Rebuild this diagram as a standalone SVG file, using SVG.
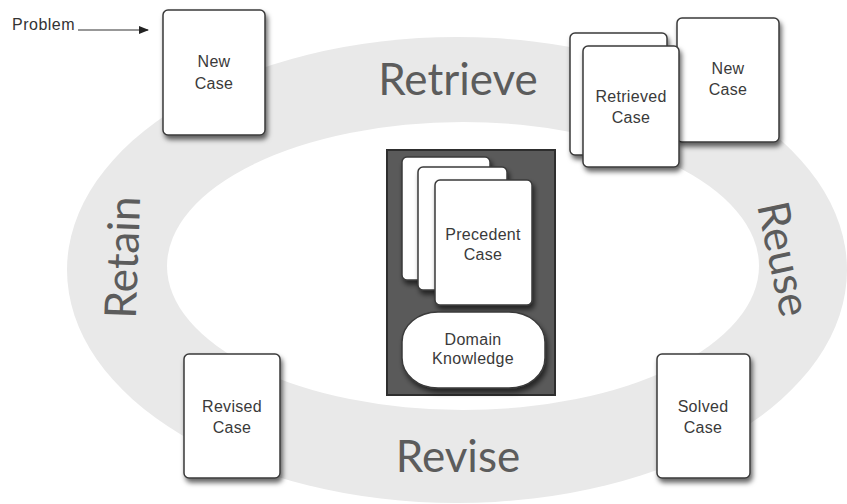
<svg xmlns="http://www.w3.org/2000/svg" width="847" height="504" viewBox="0 0 847 504">
<style>
.card{fill:#fff;stroke:#3a3a3a;stroke-width:1.5;filter:url(#sh)}
.t{font-family:"Liberation Sans",Arial,sans-serif;font-size:16px;fill:#3a3a3a;text-anchor:middle;letter-spacing:0.3px}
.big{font-family:Lato,"Open Sans",sans-serif;font-size:44px;fill:#5c5c5c;text-anchor:middle}
</style>
<defs>
<filter id="sh" x="-20%" y="-20%" width="150%" height="150%">
<feDropShadow dx="2" dy="4" stdDeviation="2.5" flood-color="#000" flood-opacity="0.6"/>
</filter>
<marker id="ah" markerWidth="10" markerHeight="8" refX="9" refY="4" orient="auto" markerUnits="userSpaceOnUse">
<path d="M0,0 L10,4 L0,8 z" fill="#222"/>
</marker>
</defs>
<rect width="847" height="504" fill="#fff"/>
<g id="ring">
<ellipse cx="457" cy="270" rx="390" ry="233" fill="#e9e9e9"/>
<ellipse cx="463" cy="266" rx="296" ry="144" fill="#fff"/>
</g>
<g id="labels">
<text class="big" x="458" y="95">Retrieve</text>
<text class="big" x="458" y="472">Revise</text>
<text class="big" transform="translate(138,258) rotate(-88)">Retain</text>
<text class="big" transform="translate(769,262) rotate(78)">Reuse</text>
</g>
<g id="problem">
<text x="12" y="30" style="font-family:'Liberation Sans',Arial,sans-serif;font-size:16px;letter-spacing:0.5px;fill:#333">Problem</text>
</g>
<g id="connectors">
<line x1="78" y1="30" x2="148" y2="30" stroke="#333" stroke-width="1.2" marker-end="url(#ah)"/>
</g>
<g id="new-case">
<rect class="card" x="163" y="10" width="102" height="125" rx="5"/>
<text class="t" x="214" y="67">New</text>
<text class="t" x="214" y="89">Case</text>
</g>
<g id="new-case-2">
<rect class="card" x="677" y="18" width="102" height="124" rx="5"/>
<text class="t" x="728" y="74">New</text>
<text class="t" x="728" y="95">Case</text>
</g>
<g id="retrieved-case">
<rect class="card" x="570" y="33" width="97" height="122" rx="5"/>
<rect class="card" x="583" y="46" width="96" height="121" rx="5"/>
<text class="t" x="631" y="102">Retrieved</text>
<text class="t" x="631" y="123">Case</text>
</g>
<g id="revised-case">
<rect class="card" x="184" y="354" width="96" height="124" rx="5"/>
<text class="t" x="232" y="412">Revised</text>
<text class="t" x="232" y="433">Case</text>
</g>
<g id="solved-case">
<rect class="card" x="657" y="354" width="93" height="124" rx="5"/>
<text class="t" x="703" y="412">Solved</text>
<text class="t" x="703" y="433">Case</text>
</g>
<g id="case-base">
<rect x="387" y="150" width="168" height="245" fill="#5a5a5a" stroke="#2e2e2e" stroke-width="2"/>
<rect class="card" x="402" y="157" width="88" height="123" rx="5"/>
<rect class="card" x="418" y="167" width="89" height="123" rx="5"/>
<rect class="card" x="435" y="180" width="97" height="125" rx="5"/>
<text class="t" x="483" y="240">Precedent</text>
<text class="t" x="483" y="260">Case</text>
<rect class="card" x="402" y="312" width="143" height="76" rx="36" ry="30"/>
<text class="t" x="473" y="345">Domain</text>
<text class="t" x="473" y="364">Knowledge</text>
</g>
</svg>
